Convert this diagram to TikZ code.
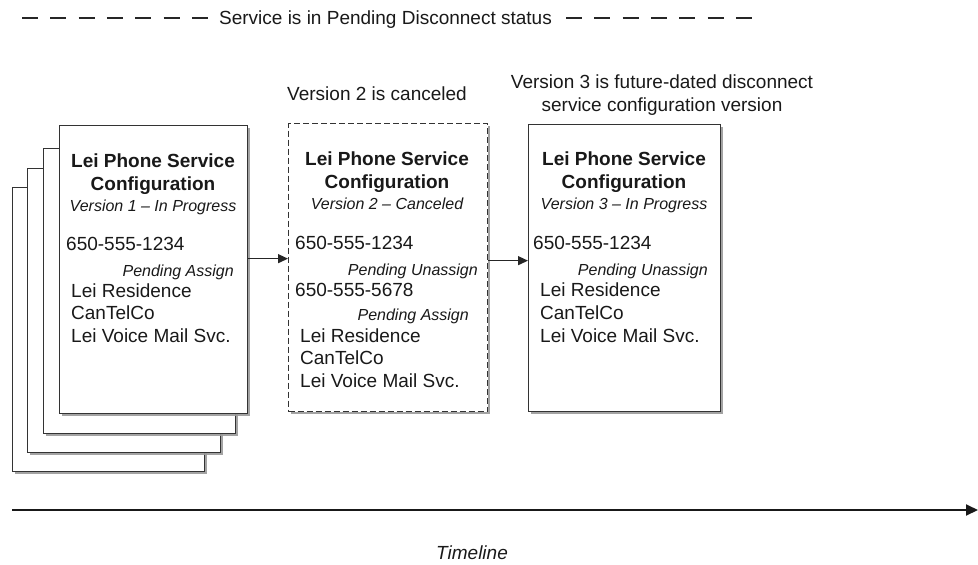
\documentclass[tikz,border=0pt]{standalone}
\usepackage{fontspec}
\setmainfont{Liberation Sans}
\usetikzlibrary{arrows.meta,shadows}
\begin{document}
\begin{tikzpicture}[x=1pt,y=-1pt,
  txt/.style={inner sep=0pt, text=black!90},
  big/.style={txt,font=\fontsize{19}{22}\selectfont},
  bld/.style={txt,font=\fontsize{19}{22}\selectfont\bfseries},
  ital/.style={txt,font=\fontsize{16}{19}\selectfont\itshape},
  card/.style={draw=black!80, line width=1.3pt, fill=white, inner sep=0pt, anchor=north west,
    drop shadow={shadow xshift=2.5pt, shadow yshift=-2.5pt, fill=black!40, opacity=0.9}},
  conn/.style={draw=black!85, line width=1.3pt, -{Triangle[length=10pt,width=9pt]}},
  dashline/.style={draw=black!85, line width=1.3pt, dash pattern=on 16pt off 12.3pt},
]
\useasboundingbox (0,0) rectangle (978,565);

% title
\node[big,anchor=mid] (title) at (385.5,22) {Service is in Pending Disconnect status};
\coordinate (dl) at (22,18);
\coordinate (dr) at (757,18);
\draw[dashline] (dl) -- ([xshift=-10pt]title.west |- dl);
\draw[dashline] ([xshift=14pt]title.east |- dr) -- (dr);

% stacked pages of version 1
\node[card, minimum width=192pt, minimum height=284pt] (page3) at (12,187) {};
\node[card, minimum width=193pt, minimum height=284pt] (page2) at (27,168) {};
\node[card, minimum width=192pt, minimum height=285pt] (page1) at (43,148) {};
\node[card, minimum width=188pt, minimum height=288pt] (box1) at (59,125) {};

% version 2 (dashed) and version 3
\node[card, dash pattern=on 6pt off 3pt, minimum width=199pt, minimum height=288pt] (box2) at (288,123) {};
\node[card, minimum width=192pt, minimum height=287pt] (box3) at (528,124) {};

% box 1 text
\node[bld,anchor=mid] (b1t1) at (153,165) {Lei Phone Service};
\node[bld,anchor=mid] (b1t2) at (153,188) {Configuration};
\node[ital,anchor=mid] (b1v) at (153,209) {Version 1 \textendash{} In Progress};
\node[big,anchor=mid west] (b1n) at (66,248) {650-555-1234};
\node[ital,anchor=mid east] (b1p) at (234,274) {Pending Assign};
\node[big,anchor=mid west] (b1a) at (71,295) {Lei Residence};
\node[big,anchor=mid west] (b1b) at (71,317) {CanTelCo};
\node[big,anchor=mid west] (b1c) at (71,340) {Lei Voice Mail Svc.};

% box 2 text
\node[big,anchor=mid] (c2) at (377,98) {Version 2 is canceled};
\node[bld,anchor=mid] (b2t1) at (387,163) {Lei Phone Service};
\node[bld,anchor=mid] (b2t2) at (387,186) {Configuration};
\node[ital,anchor=mid] (b2v) at (387,207) {Version 2 \textendash{} Canceled};
\node[big,anchor=mid west] (b2n) at (295,247) {650-555-1234};
\node[ital,anchor=mid east] (b2p) at (478,273) {Pending Unassign};
\node[big,anchor=mid west] (b2m) at (295,294) {650-555-5678};
\node[ital,anchor=mid east] (b2q) at (469,318) {Pending Assign};
\node[big,anchor=mid west] (b2a) at (300,340) {Lei Residence};
\node[big,anchor=mid west] (b2b) at (300,362) {CanTelCo};
\node[big,anchor=mid west] (b2c) at (300,385) {Lei Voice Mail Svc.};

% box 3 text
\node[big,anchor=mid] (c3a) at (662,86) {Version 3 is future-dated disconnect};
\node[big,anchor=mid] (c3b) at (662,109) {service configuration version};
\node[bld,anchor=mid] (b3t1) at (624,163) {Lei Phone Service};
\node[bld,anchor=mid] (b3t2) at (624,186) {Configuration};
\node[ital,anchor=mid] (b3v) at (624,207) {Version 3 \textendash{} In Progress};
\node[big,anchor=mid west] (b3n) at (533,247) {650-555-1234};
\node[ital,anchor=mid east] (b3p) at (708,273) {Pending Unassign};
\node[big,anchor=mid west] (b3a) at (540,294) {Lei Residence};
\node[big,anchor=mid west] (b3b) at (540,317) {CanTelCo};
\node[big,anchor=mid west] (b3c) at (540,340) {Lei Voice Mail Svc.};

% connectors
\draw[conn] ([yshift=11pt]box1.east) -- ([yshift=9pt]box2.west);
\draw[conn] ([yshift=7pt]box2.east) -- ([yshift=7.5pt]box3.west);

% timeline
\coordinate (t0) at (12,510);
\coordinate (t1) at (978,510);
\draw[draw=black!90, line width=2pt, -{Triangle[length=12pt,width=11pt]}] (t0) -- (t1);
\node[txt,font=\fontsize{19}{22}\selectfont\itshape,anchor=mid] (tl) at (472,557) {Timeline};
\end{tikzpicture}
\end{document}
